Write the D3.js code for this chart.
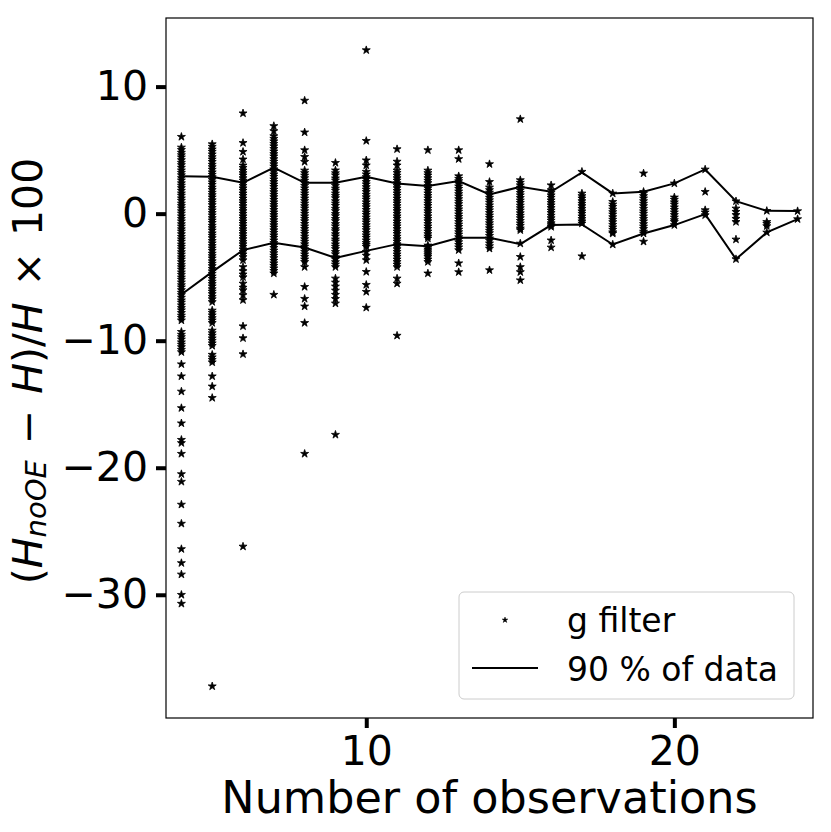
<!DOCTYPE html>
<html><head><meta charset="utf-8">
<script src="https://cdn.jsdelivr.net/npm/d3@7"></script>
<style>
html,body{margin:0;padding:0;background:#fff;}
text{font-family:"DejaVu Sans",sans-serif;}
</style></head>
<body><svg id="c" width="831" height="832"></svg>
<script>
// Number of observations (x categories)
const nObs = [4,5,6,7,8,9,10,11,12,13,14,15,16,17,18,19,20,21,22,23,24];
// 90 % of data bounds
const upper90 = [2.95,2.9,2.43,3.63,2.43,2.43,2.9,2.38,2.17,2.56,1.51,2.11,1.72,3.25,1.59,1.72,2.38,3.48,0.98,0.22,0.2];
const lower90 = [-6.37,-4.58,-2.87,-2.3,-2.66,-3.48,-2.93,-2.4,-2.56,-1.9,-1.9,-2.4,-0.9,-0.85,-2.43,-1.56,-0.9,-0.04,-3.58,-1.48,-0.43];
// g filter values per number of observations
const g4 = [6.05,5.21,5.02,4.8,4.61,4.43,4.22,4.01,3.83,3.62,3.41,3.22,3.03,2.81,2.62,2.4,2.21,2.02,1.81,1.6,1.42,1.21,1.02,0.8,0.61,0.42,0.2,0.01,-0.2,-0.41,-0.6,-0.82,-1.01,-1.22,-1.4,-1.61,-1.82,-2.01,-2.2,-2.42,-2.61,-2.8,-3.02,-3.21,-3.42,-3.6,-3.81,-4.02,-4.21,-4.4,-4.62,-4.81,-5.02,-5.2,-5.41,-5.62,-5.8,-6.01,-6.22,-6.4,-6.61,-6.82,-7.0,-7.21,-7.42,-7.6,-7.81,-8.02,-8.2,-8.4,-9.3,-9.52,-9.71,-9.9,-10.12,-10.31,-10.5,-10.71,-10.9,-11.85,-12.8,-14.0,-15.3,-16.5,-17.8,-18.05,-18.9,-20.5,-21.1,-22.9,-24.4,-26.4,-27.5,-28.4,-30.0,-30.7];
const g5 = [5.47,5.27,5.06,4.88,4.67,4.46,4.27,4.08,3.86,3.67,3.47,3.26,3.07,2.88,2.66,2.47,2.28,2.06,1.87,1.66,1.47,1.28,1.06,0.87,0.68,0.46,0.27,0.06,-0.13,-0.34,-0.53,-0.72,-0.94,-1.13,-1.32,-1.54,-1.73,-1.92,-2.14,-2.33,-2.54,-2.73,-2.92,-3.14,-3.33,-3.52,-3.74,-3.93,-4.12,-4.34,-4.53,-4.72,-4.94,-5.13,-5.34,-5.53,-5.72,-5.94,-6.13,-6.32,-6.54,-6.73,-6.95,-7.62,-7.8,-8.0,-8.21,-8.4,-8.6,-9.2,-9.4,-9.6,-9.81,-10.0,-10.2,-10.4,-11.1,-11.3,-11.5,-11.7,-12.8,-13.6,-14.5,-37.2];
const g6 = [7.9,5.57,4.87,4.27,3.8,3.61,3.4,3.2,3.01,2.8,2.61,2.4,2.2,2.0,1.81,1.6,1.41,1.2,1.0,0.81,0.6,0.4,0.21,0.0,-0.2,-0.4,-0.6,-0.8,-1.0,-1.21,-1.4,-1.6,-1.8,-2.0,-2.21,-2.4,-2.6,-2.8,-3.0,-3.2,-3.41,-3.66,-4.2,-4.52,-4.78,-5.0,-5.5,-5.82,-6.02,-6.41,-6.8,-8.86,-9.8,-11.06,-26.2];
const g7 = [6.9,6.5,6.1,5.9,5.7,5.5,5.31,5.1,4.9,4.7,4.51,4.3,4.1,3.9,3.71,3.5,3.3,3.1,2.91,2.7,2.5,2.3,2.11,1.9,1.7,1.5,1.31,1.1,0.9,0.7,0.51,0.3,0.1,-0.1,-0.29,-0.5,-0.7,-0.9,-1.09,-1.3,-1.5,-1.7,-1.89,-2.1,-2.3,-2.5,-2.69,-2.9,-3.1,-3.3,-3.49,-3.7,-3.9,-4.1,-4.3,-4.5,-4.7,-6.38];
const g8 = [8.9,6.4,5.0,4.47,4.08,3.4,3.2,3.0,2.8,2.6,2.41,2.2,2.0,1.8,1.6,1.41,1.2,1.0,0.8,0.6,0.41,0.2,0.0,-0.2,-0.4,-0.59,-0.8,-1.0,-1.2,-1.4,-1.59,-1.8,-2.0,-2.2,-2.4,-2.59,-2.8,-3.0,-3.2,-3.4,-3.6,-3.8,-4.2,-5.76,-6.7,-7.3,-8.6,-18.9];
const g9 = [4.0,3.41,3.19,3.02,2.78,2.61,2.39,2.2,1.98,1.81,1.59,1.4,1.22,0.99,0.8,0.62,0.39,0.21,-0.02,-0.19,-0.41,-0.58,-0.81,-0.99,-1.21,-1.38,-1.61,-1.79,-2.02,-2.19,-2.41,-2.6,-2.78,-3.01,-3.19,-3.42,-3.59,-3.81,-4.0,-4.2,-5.1,-5.42,-5.73,-6.05,-6.38,-6.71,-7.07,-17.4];
const g10 = [12.87,5.73,4.2,3.8,3.3,3.1,2.89,2.7,2.5,2.31,2.1,1.9,1.71,1.5,1.3,1.11,0.9,0.7,0.51,0.3,0.1,-0.09,-0.3,-0.5,-0.69,-0.9,-1.1,-1.29,-1.5,-1.7,-1.89,-2.1,-2.3,-2.45,-2.6,-3.0,-3.3,-3.66,-4.58,-5.6,-6.15,-7.4];
const g11 = [5.08,4.1,3.8,3.4,3.21,3.0,2.8,2.61,2.4,2.2,2.01,1.8,1.6,1.41,1.2,1.0,0.81,0.6,0.4,0.21,0.0,-0.2,-0.39,-0.6,-0.8,-0.99,-1.2,-1.4,-1.59,-1.8,-2.0,-2.19,-2.4,-2.6,-2.79,-3.0,-3.2,-3.39,-3.6,-3.8,-4.0,-4.2,-5.1,-5.5,-9.6];
const g12 = [5.0,3.4,3.2,3.01,2.8,2.6,2.41,2.2,2.0,1.81,1.6,1.4,1.21,1.0,0.8,0.61,0.4,0.2,0.01,-0.2,-0.4,-0.59,-0.8,-1.0,-1.19,-1.4,-1.6,-1.79,-1.95,-2.5,-2.65,-2.8,-2.95,-3.1,-3.25,-3.4,-3.6,-3.8,-4.7];
const g13 = [5.0,4.3,2.95,2.75,2.56,2.35,2.15,1.96,1.75,1.55,1.36,1.15,0.95,0.76,0.55,0.35,0.16,-0.05,-0.25,-0.44,-0.65,-0.85,-1.04,-1.25,-1.45,-1.64,-1.85,-2.05,-2.24,-2.45,-2.65,-2.87,-3.9,-4.6];
const g14 = [3.9,2.5,2.06,1.86,1.66,1.47,1.26,1.06,0.87,0.66,0.46,0.27,0.06,-0.14,-0.33,-0.54,-0.74,-0.93,-1.14,-1.34,-1.53,-1.74,-1.94,-2.13,-2.34,-2.55,-2.75,-4.45];
const g15 = [7.44,2.64,2.44,2.24,2.05,1.84,1.64,1.45,1.24,1.04,0.85,0.64,0.44,0.25,0.04,-0.16,-0.35,-0.56,-0.76,-0.95,-1.16,-1.3,-2.35,-3.4,-4.2,-4.6,-5.24];
const g16 = [2.24,1.85,1.65,1.45,1.26,1.05,0.85,0.66,0.45,0.25,0.06,-0.15,-0.35,-0.54,-0.75,-0.9,-1.04,-2.1,-2.66];
const g17 = [3.3,1.59,1.39,1.2,0.99,0.79,0.6,0.39,0.19,0.0,-0.21,-0.41,-0.6,-0.77,-3.35];
const g18 = [1.59,0.93,0.73,0.54,0.33,0.13,-0.06,-0.27,-0.47,-0.66,-0.87,-1.07,-1.26,-1.46,-1.56,-2.43];
const g19 = [3.17,1.72,1.59,1.39,1.2,0.99,0.79,0.6,0.39,0.19,0.0,-0.21,-0.41,-0.6,-0.81,-1.01,-1.2,-1.41,-1.56,-2.2];
const g20 = [2.38,1.28,1.1,0.9,0.72,0.5,0.3,0.1,-0.1,-0.3,-0.5,-0.65,-0.9];
const g21 = [3.48,1.72,0.28,0.1,-0.12];
const g22 = [0.98,0.41,0.15,-0.1,-0.4,-0.65,-2.03,-3.58];
const g23 = [0.22,-0.65,-0.8,-0.98,-1.48];
const g24 = [0.2,-0.43];
const gFilterCols = [g4,g5,g6,g7,g8,g9,g10,g11,g12,g13,g14,g15,g16,g17,g18,g19,g20,g21,g22,g23,g24];
const xTicks = [10,20];
const yTicks = [10,0,-10,-20,-30];
const legendLabels = ["g filter","90 % of data"];

const svg = d3.select("#c");
const W = 831, H = 832;
const m = {left:166, right:813, top:18, bottom:718};
const x = d3.scaleLinear().domain([3.5,24.5]).range([m.left,m.right]);
const y = d3.scaleLinear().domain([-39.7,15.4]).range([m.bottom,m.top]);

svg.append("rect").attr("width",W).attr("height",H).attr("fill","#fff");

// points
const pts = [];
nObs.forEach((n,i)=>gFilterCols[i].forEach(v=>pts.push({n,v})));
const star = d3.symbol().type(d3.symbolStar).size(20);
svg.append("g").selectAll("path").data(pts).join("path")
  .attr("d",star)
  .attr("transform",d=>`translate(${x(d.n)},${y(d.v)})`)
  .attr("fill","#000").attr("stroke","#000").attr("stroke-width",0.8);

// lines
const line = d3.line().x((d,i)=>x(nObs[i])).y(d=>y(d));
[upper90,lower90].forEach(s=>{
  svg.append("path").datum(s).attr("d",line)
    .attr("fill","none").attr("stroke","#000").attr("stroke-width",2);
});

// frame
svg.append("rect").attr("x",m.left).attr("y",m.top)
  .attr("width",m.right-m.left).attr("height",m.bottom-m.top)
  .attr("fill","none").attr("stroke","#000").attr("stroke-width",1.2);

// axes
const fmt = d=> d<0 ? "\u2212"+Math.abs(d) : String(d);
const xa = svg.append("g").attr("transform",`translate(0,${m.bottom})`)
  .call(d3.axisBottom(x).tickValues(xTicks).tickSize(10).tickPadding(8).tickFormat(fmt));
const ya = svg.append("g").attr("transform",`translate(${m.left},0)`)
  .call(d3.axisLeft(y).tickValues(yTicks).tickSize(10).tickPadding(8).tickFormat(fmt));
[xa,ya].forEach(a=>{
  a.select(".domain").remove();
  a.selectAll(".tick line").attr("stroke","#000").attr("stroke-width",4);
  a.selectAll(".tick text").attr("font-family","DejaVu Sans").attr("font-size",41).attr("fill","#000");
});

// x label
svg.append("text").attr("x",(m.left+m.right)/2).attr("y",813)
  .attr("text-anchor","middle").attr("font-size",44.5).attr("fill","#000")
  .text("Number of observations");

// y label (mathtext-like)
const yl = svg.append("text")
  .attr("transform",`translate(42,${(m.top+m.bottom)/2+3}) rotate(-90)`)
  .attr("text-anchor","middle").attr("font-size",41).attr("fill","#000");
yl.append("tspan").text("(");
yl.append("tspan").attr("font-style","italic").text("H");
yl.append("tspan").attr("font-style","italic").attr("font-size",29).attr("dy",4).text("noOE");
yl.append("tspan").attr("dy",-4).attr("dx",16).text("\u2212");
yl.append("tspan").attr("dx",16).attr("font-style","italic").text("H");
yl.append("tspan").text(")/");
yl.append("tspan").attr("font-style","italic").text("H");
yl.append("tspan").attr("dx",16).text("\u00d7");
yl.append("tspan").attr("dx",16).text("100");

// legend
const lg = svg.append("g");
lg.append("rect").attr("x",459).attr("y",592).attr("width",335).attr("height",107)
  .attr("rx",5).attr("fill","#fff").attr("fill-opacity",0.8)
  .attr("stroke","#cccccc").attr("stroke-width",1);
lg.append("path").attr("d",d3.symbol().type(d3.symbolStar).size(10))
  .attr("transform","translate(505,620)").attr("fill","#000").attr("stroke","#000").attr("stroke-width",0.5);
lg.append("line").attr("x1",472).attr("x2",538).attr("y1",668).attr("y2",668)
  .attr("stroke","#000").attr("stroke-width",2);
lg.selectAll("text.l").data(legendLabels).join("text").attr("class","l")
  .attr("x",567).attr("y",(d,i)=>632+i*49).attr("font-size",33).attr("fill","#000").text(d=>d);
</script></body></html>
